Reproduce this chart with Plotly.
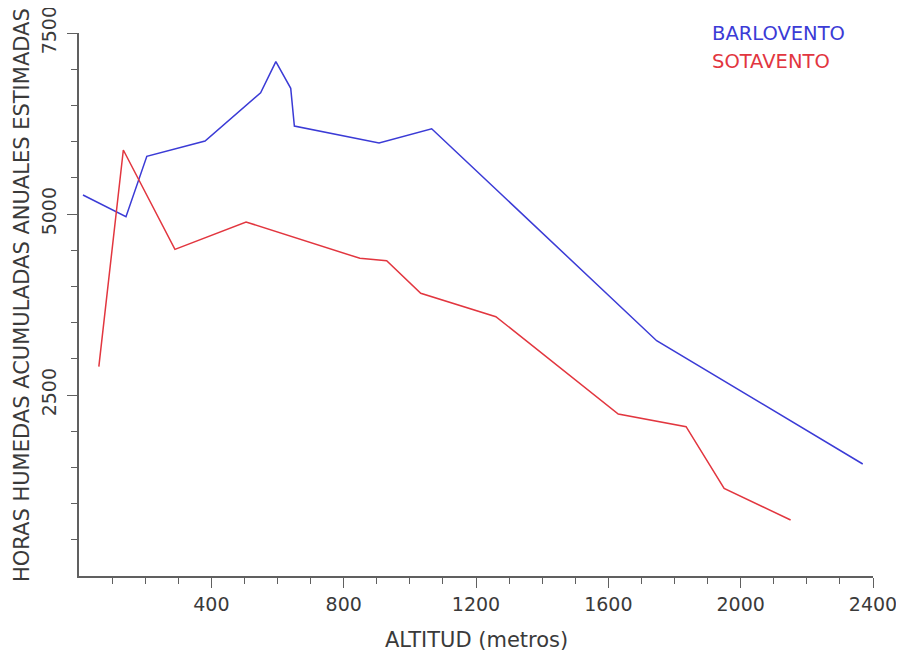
import plotly.graph_objects as go

# Data
barlovento_alt = [12, 142, 205, 381, 549, 595, 640, 651, 907, 1066, 1746, 2369]
barlovento_hrs = [5262, 4963, 5797, 6008, 6675, 7104, 6736, 6215, 5981, 6178, 3250, 1547]

sotavento_alt = [60, 134, 290, 505, 849, 930, 1033, 1260, 1630, 1835, 1950, 2151]
sotavento_hrs = [2891, 5884, 4512, 4890, 4388, 4355, 3905, 3582, 2238, 2062, 1211, 773]

x_ticks = [400, 800, 1200, 1600, 2000, 2400]
x_minor = [v for v in range(100, 2400, 100) if v % 400 != 0]
y_ticks = [2500, 5000, 7500]
y_minor = [v for v in range(500, 7500, 500) if v % 2500 != 0]

BLUE = "#3b3bd6"
RED = "#e2363f"
FONT = "DejaVu Sans"
TXT = "#3a3a3a"
AX = "#606060"

fig = go.Figure()
fig.add_trace(go.Scatter(x=barlovento_alt, y=barlovento_hrs, mode="lines",
                         line=dict(color=BLUE, width=1.5), name="BARLOVENTO"))
fig.add_trace(go.Scatter(x=sotavento_alt, y=sotavento_hrs, mode="lines",
                         line=dict(color=RED, width=1.5), name="SOTAVENTO"))

fig.update_layout(
    width=896, height=652,
    margin=dict(l=71, r=31, t=25, b=84),
    paper_bgcolor="white", plot_bgcolor="white",
    showlegend=False,
    font=dict(family=FONT, size=19, color=TXT),
    xaxis=dict(
        range=[0, 2400], showgrid=False, zeroline=False,
        showline=True, linecolor=AX, linewidth=1.5,
        tickmode="array", tickvals=x_ticks, ticks="outside", ticklen=10,
        tickcolor=AX, tickwidth=1.2,
        minor=dict(tickmode="array", tickvals=x_minor, ticks="outside",
                   ticklen=6, tickcolor=AX, tickwidth=1),
        tickfont=dict(family=FONT, size=19, color=TXT),
        ticklabeloverflow="allow",
        automargin=False,
    ),
    yaxis=dict(
        range=[0, 7500], showgrid=False, zeroline=False,
        showline=True, linecolor=AX, linewidth=1.5,
        tickmode="array", tickvals=y_ticks, ticks="outside", ticklen=10,
        tickcolor=AX, tickwidth=1.2, tickangle=-90, ticklabelstandoff=4,
        minor=dict(tickmode="array", tickvals=y_minor, ticks="outside",
                   ticklen=6, tickcolor=AX, tickwidth=1),
        tickfont=dict(family=FONT, size=19, color=TXT),
        ticklabeloverflow="allow",
        automargin=False,
    ),
    annotations=[
        dict(text="ALTITUD (metros)", x=0.5, y=(576 - 640) / 543, xref="paper", yref="paper",
             xanchor="center", yanchor="middle", showarrow=False,
             font=dict(family=FONT, size=21, color=TXT)),
        dict(text="HORAS HUMEDAS ACUMULADAS ANUALES ESTIMADAS", x=(22 - 79) / 794,
             y=(576 - 295) / 543, xref="paper", yref="paper", textangle=-90,
             xanchor="center", yanchor="middle", showarrow=False,
             font=dict(family=FONT, size=21, color=TXT)),
        dict(text="BARLOVENTO", x=0.795, y=1.0, xref="paper", yref="paper",
             xanchor="left", yanchor="middle", showarrow=False,
             font=dict(family=FONT, size=19.5, color=BLUE)),
        dict(text="SOTAVENTO", x=0.795, y=0.948, xref="paper", yref="paper",
             xanchor="left", yanchor="middle", showarrow=False,
             font=dict(family=FONT, size=19.5, color=RED)),
    ],
)

fig.write_html("out.html")
